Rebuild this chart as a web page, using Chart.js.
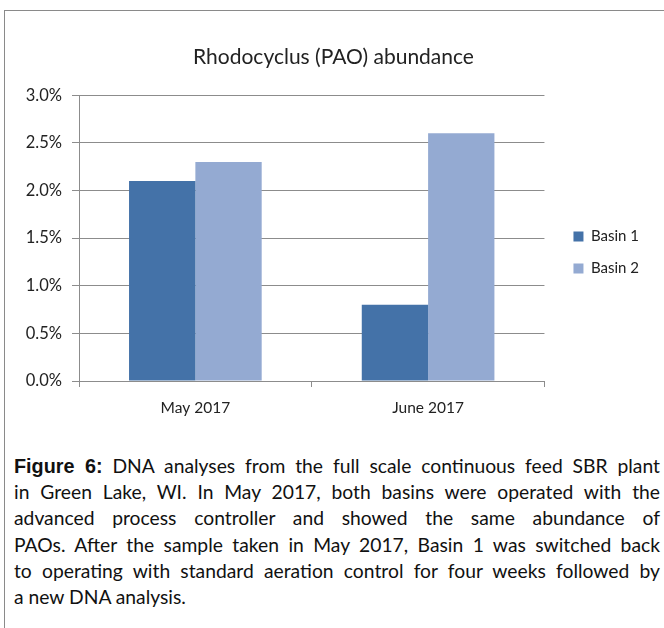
<!DOCTYPE html>
<html>
<head>
<meta charset="utf-8">
<script src="https://cdn.jsdelivr.net/npm/chart.js@4.4.1/dist/chart.umd.min.js"></script>
<style>
  html, body { margin: 0; padding: 0; background: #fff; }
  body { width: 664px; height: 628px; position: relative; overflow: hidden; }
  .cadre { position: absolute; left: 4px; top: 10px; width: 660px; height: 618px;
           border-left: 1px solid #8a8a8a; border-top: 1px solid #8a8a8a; }
  .zone { position: absolute; left: 5px; top: 11px; width: 655px; height: 415px; }
  .legende { position: absolute; left: 14px; top: 453px; width: 646px;
             font-family: Lato, sans-serif; font-size: 19.3px; line-height: 26.2px; color: #111; }
  .legende div { text-align: justify; text-align-last: justify; white-space: nowrap; }
  .legende div.fim { text-align-last: left; }
  .legende b { font-family: "Liberation Sans", Arial, sans-serif; font-weight: bold; font-size: 19.8px; }
</style>
</head>
<body>
<div class="cadre"></div>
<div class="zone"><canvas id="grafico"></canvas></div>
<div class="legende">
  <div><b>Figure 6:</b> DNA analyses from the full scale continuous feed SBR plant</div>
  <div>in Green Lake, WI. In May 2017, both basins were operated with the</div>
  <div>advanced process controller and showed the same abundance of</div>
  <div>PAOs. After the sample taken in May 2017, Basin 1 was switched back</div>
  <div>to operating with standard aeration control for four weeks followed by</div>
  <div class="fim">a new DNA analysis.</div>
</div>
<script>
const meses = ["May 2017", "June 2017"];
const bacia1 = [2.1, 0.8];
const bacia2 = [2.3, 2.6];
const rotulosSeries = ["Basin 1", "Basin 2"];
const titulo = "Rhodocyclus (PAO) abundance";

const corTexto = "#222";
const corGrade = "#8c8c8c";

new Chart(document.getElementById("grafico"), {
  type: "bar",
  data: {
    labels: meses,
    datasets: [
      { label: rotulosSeries[0], data: bacia1, backgroundColor: "#4472a8", categoryPercentage: 0.57, barPercentage: 1 },
      { label: rotulosSeries[1], data: bacia2, backgroundColor: "#94aad2", categoryPercentage: 0.57, barPercentage: 1 },
    ],
  },
  options: {
    responsive: true,
    maintainAspectRatio: false,
    animation: false,
    layout: { padding: { top: 0, right: 11, bottom: 0, left: 13 } },
    plugins: {
      title: {
        display: true, text: titulo, color: corTexto,
        font: { family: "Lato", size: 21, weight: "normal" },
        padding: { top: 34, bottom: 25 },
      },
      legend: {
        position: "right",
        title: { display: true, text: " ", font: { size: 10 }, padding: { top: 0, bottom: 56 } },
        labels: { color: corTexto, boxWidth: 10, boxHeight: 10, padding: 17,
                  font: { family: "Lato", size: 15 } },
      },
      tooltip: { enabled: false },
    },
    scales: {
      x: {
        grid: { drawOnChartArea: false, drawTicks: true, tickLength: 6, color: corGrade, offset: true },
        border: { color: corGrade },
        ticks: { color: corTexto, font: { family: "Lato", size: 15.5 }, padding: 12 },
        afterFit: (s) => { s.height = 45; },
      },
      y: {
        min: 0, max: 3,
        grid: { color: corGrade, tickLength: 7 },
        border: { color: corGrade },
        ticks: { stepSize: 0.5, color: corTexto, font: { family: "Lato", size: 16.5 }, padding: 10,
                 callback: (v) => v.toFixed(1) + "%" },
        afterFit: (s) => { s.width = 61; },
      },
      folga: {
        type: "linear", position: "right", display: true,
        grid: { display: false }, border: { display: false }, ticks: { display: false },
        afterFit: (s) => { s.width = 12; },
      },
    },
  },
});
</script>
</body>
</html>
